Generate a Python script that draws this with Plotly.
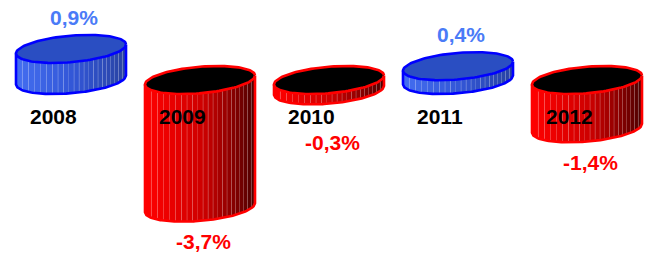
import numpy as np
import plotly.graph_objects as go

# ---- data ----
years = ["2008", "2009", "2010", "2011", "2012"]
values = [0.9, -3.7, -0.3, 0.4, -1.4]
value_labels = ["0,9%", "-3,7%", "-0,3%", "0,4%", "-1,4%"]

# ---- layout constants (pixel geometry -> data units) ----
W, H = 650, 255
PX_X = 129.0          # pixels per category
PX_Y = 34.5           # pixels per 1 %
X0_PX = 71.0          # pixel x of first category centre
BASE_PX = 80.0        # pixel y of the zero baseline
x_range = [-X0_PX / PX_X, (W - X0_PX) / PX_X]
y_range = [(BASE_PX - H) / PX_Y, BASE_PX / PX_Y]

A = 55.0 / PX_X       # ellipse half width
B = 13.3 / PX_Y       # ellipse half depth
K = 4.5 / PX_Y        # tilt (right side higher)
NSTRIP = 22

fig = go.Figure()


def lower(xc, yc, u):
    return yc + K * u - B * np.sqrt(np.clip(1 - u * u, 0, 1))


def ellipse(xc, yc, n=120):
    t = np.linspace(0, 2 * np.pi, n)
    return xc + A * np.cos(t), yc + K * np.cos(t) + B * np.sin(t)


def body_color(p, pos):
    if pos:
        c0 = np.array([68, 110, 240])
        c1 = np.array([50, 86, 214])
        c2 = np.array([40, 66, 160])
    else:
        c0 = np.array([255, 0, 0])
        c1 = np.array([205, 0, 0])
        c2 = np.array([75, 0, 0])
    if p < 0.45:
        c = c0 + (c1 - c0) * (p / 0.45)
    else:
        c = c1 + (c2 - c1) * ((p - 0.45) / 0.55)
    return "rgb(%d,%d,%d)" % tuple(int(round(v)) for v in c)


for i, v in enumerate(values):
    pos = v >= 0
    top = max(v, 0.0)
    bot = min(v, 0.0)
    outline = "#0000FF" if pos else "#FF0000"
    capfill = "#2A4EC2" if pos else "#000000"

    ps = np.linspace(0, 1, NSTRIP + 1)
    us = -1 + 2 * (ps + 0.3 * ps * (1 - ps))
    for s in range(NSTRIP):
        uu = np.linspace(us[s], us[s + 1], 6)
        xs = np.concatenate([i + A * uu, i + A * uu[::-1]])
        ys = np.concatenate([lower(i, top, uu), lower(i, bot, uu[::-1])])
        fig.add_trace(go.Scatter(
            x=xs, y=ys, mode="lines", fill="toself",
            fillcolor=body_color((s + 0.5) / NSTRIP, pos),
            line=dict(color="rgba(255,255,255,0.35)", width=0.8),
            hoverinfo="skip", showlegend=False))

    # body outline: left side, front bottom arc, right side
    uu = np.linspace(-1, 1, 80)
    xs = np.concatenate([[i - A], i + A * uu, [i + A]])
    ys = np.concatenate([[top - K], lower(i, bot, uu), [top + K]])
    fig.add_trace(go.Scatter(x=xs, y=ys, mode="lines",
                             line=dict(color=outline, width=2.6),
                             hoverinfo="skip", showlegend=False))

    # top cap
    ex, ey = ellipse(i, top)
    fig.add_trace(go.Scatter(x=ex, y=ey, mode="lines", fill="toself",
                             fillcolor=capfill,
                             line=dict(color=outline, width=2.6),
                             hoverinfo="skip", showlegend=False))

    # year label
    fig.add_annotation(x=i - 18 / PX_X, y=(BASE_PX - 116) / PX_Y,
                       text=years[i], showarrow=False, xref="x", yref="y",
                       font=dict(family="Liberation Sans, Arial", size=21,
                                 color="#000000", weight="bold"))
    # value label
    if pos:
        ly = v + 31.5 / PX_Y
        lc = "#4A7BF7"
    else:
        ly = min(v - 0.98, -1.8)
        lc = "#FF0000"
    fig.add_annotation(x=i + 3 / PX_X, y=ly, text=value_labels[i],
                       showarrow=False, xref="x", yref="y",
                       font=dict(family="Liberation Sans, Arial", size=21,
                                 color=lc, weight="bold"))

fig.update_xaxes(range=x_range, visible=False, fixedrange=True)
fig.update_yaxes(range=y_range, visible=False, fixedrange=True)
fig.update_layout(width=W, height=H, margin=dict(l=0, r=0, t=0, b=0),
                  paper_bgcolor="white", plot_bgcolor="white",
                  showlegend=False)

fig.write_html("out.html", config={"displayModeBar": False},
               post_script="document.body.style.margin='0';"
                           "document.body.style.overflow='hidden';")
